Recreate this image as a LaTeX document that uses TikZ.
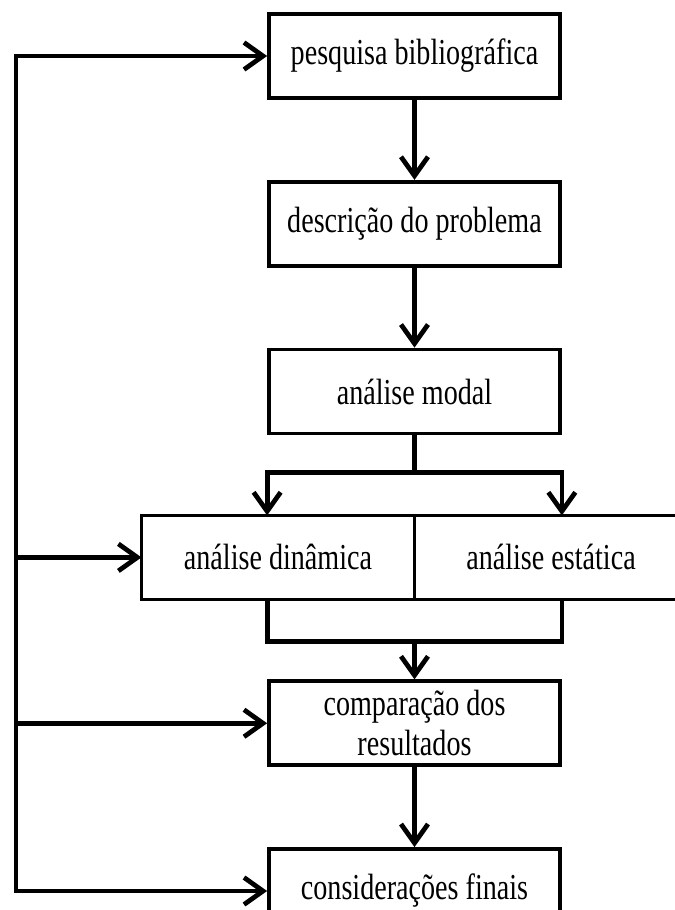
\documentclass[tikz,border=0pt]{standalone}
\usepackage{fontspec}
\setmainfont{Liberation Serif}
\usepackage{graphicx}
\usetikzlibrary{arrows.meta,positioning}
\newcommand{\vst}[1]{\scalebox{1}[1.3]{#1}}

\begin{document}
\begin{tikzpicture}[font=\fontsize{16}{22.7}\selectfont, node distance=16mm,
  b/.style={draw, line width=0.75mm, minimum width=58.2mm, minimum height=16.8mm,
            inner sep=2pt, align=center},
  h/.style={b, minimum width=54.6mm, outer sep=0pt},
  ln/.style={line width=0.95mm},
  a/.style={ln, -{Straight Barb[length=3.8mm,width=5.4mm]}},
  aa/.style={ln, {Straight Barb[length=3.8mm,width=5.4mm]}-{Straight Barb[length=3.8mm,width=5.4mm]}}]
\useasboundingbox (0,0) rectangle (135mm,-182mm);
\clip (0,0) rectangle (135mm,-182mm);
\node[b] (pesq) at (82.9mm,-11.2mm) {\vst{pesquisa bibliográfica}};
\node[b, below=of pesq] (desc) {\vst{descrição do problema}};
\node[b, below=of desc] (modal) {\vst{análise modal}};
\node[h, below left=16mm and 0mm of modal.south] (din) {\vst{análise dinâmica}};
\node[h, below right=16mm and 0mm of modal.south] (est) {\vst{análise estática}};
\node[b, below=of din.south east] (comp) {\vst{comparação dos}\\\vst{resultados}};
\node[b, below=of comp] (fin) {\vst{considerações finais}};

\draw[a] (pesq) -- (desc);
\draw[a] (desc) -- (modal);
\draw[ln] (modal.south) -- ++(0,-7.4mm) coordinate (split);
\draw[a] (split) -| (din.north -| modal.west);
\draw[a] (split) -| (est.north -| modal.east);
\draw[ln] (din.south -| modal.west) -- ++(0,-8.4mm) coordinate (jl)
  -- (jl -| modal.east) -- (est.south -| modal.east);
\draw[a] (jl -| modal.south) -- (comp);
\draw[a] (comp) -- (fin);

% retorno pela esquerda
\coordinate (fb) at (3.2mm,0);
\draw[aa] (fin.west) -- (fin.west -| fb) -- (fb |- pesq.west) -- (pesq.west);
\draw[a] (fb |- din.west) -- (din.west);
\draw[a] (fb |- comp.west) -- (comp.west);
\end{tikzpicture}
\end{document}
